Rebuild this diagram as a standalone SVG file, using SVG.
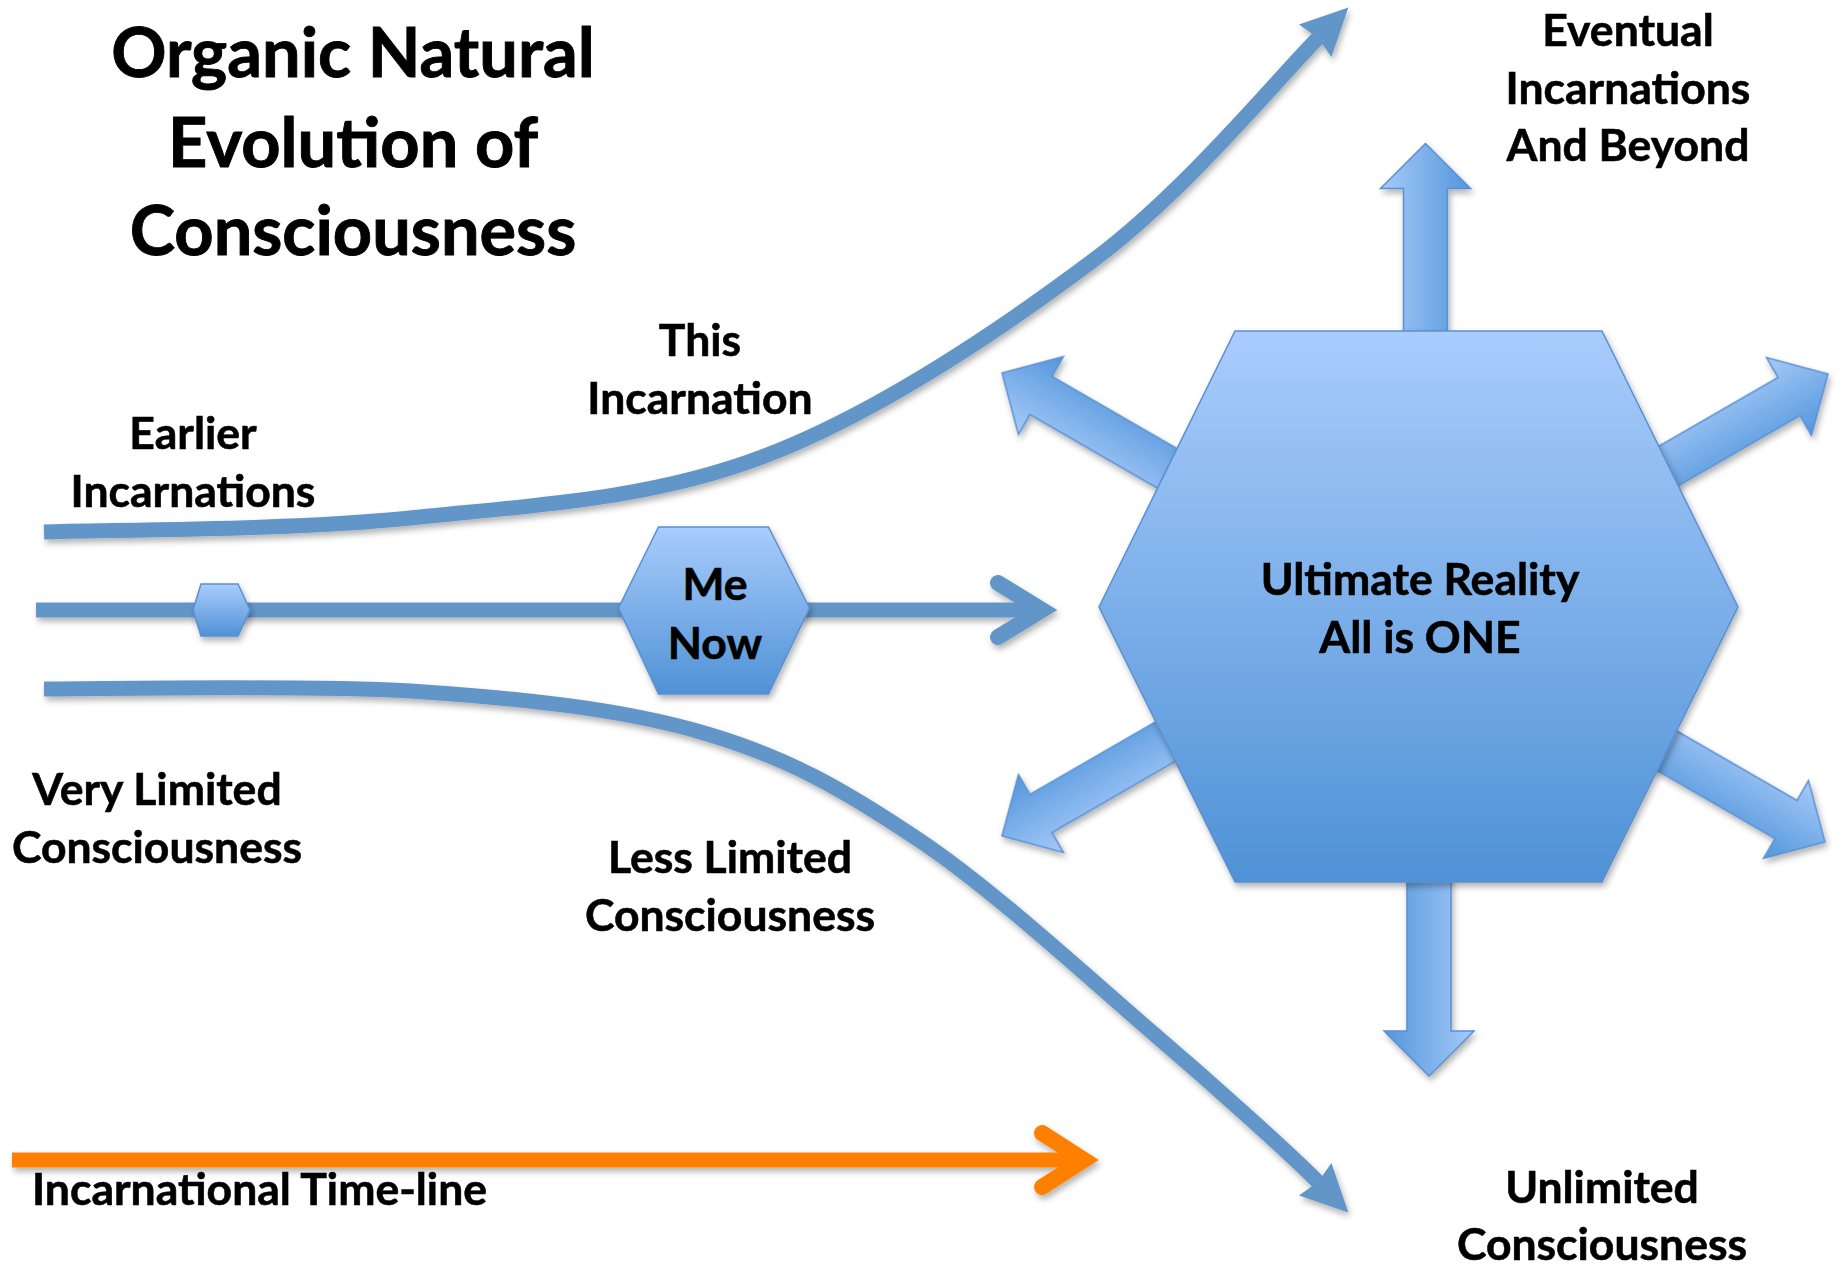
<svg xmlns="http://www.w3.org/2000/svg" xmlns:xlink="http://www.w3.org/1999/xlink" width="1839" height="1268" viewBox="0 0 1839 1268">
<style>
.t{font-family:Lato,"Liberation Sans",sans-serif;font-weight:700;fill:#000;text-anchor:middle;stroke:#000;stroke-width:0.6}
.title{font-size:68.5px;stroke-width:0.9}
.lbl{font-size:44.5px}
.ln{fill:none;stroke:#6296C9;stroke-width:15}
.or{fill:none;stroke:#FF8000;stroke-width:15}
.chev{fill:none;stroke-width:16;stroke-linecap:round;stroke-linejoin:miter;stroke-miterlimit:10}
.hex{fill:url(#hg);stroke:#5A8FD2;stroke-width:1.5}
.blk{fill:url(#ag);stroke:#5A90D3;stroke-width:1.5}
</style>
<defs>
<linearGradient id="hg" x1="0" y1="0" x2="0" y2="1">
<stop offset="0" stop-color="#A9CCFC"/>
<stop offset="1" stop-color="#4F92D6"/>
</linearGradient>
<linearGradient id="ag" gradientUnits="userSpaceOnUse" x1="0" y1="-45" x2="0" y2="45">
<stop offset="0" stop-color="#A6CAF8"/>
<stop offset="1" stop-color="#5396DC"/>
</linearGradient>
<filter id="sh" x="-10%" y="-10%" width="130%" height="130%">
<feDropShadow dx="2" dy="4" stdDeviation="3" flood-color="#000" flood-opacity="0.3"/>
</filter>
<marker id="tri" markerUnits="userSpaceOnUse" orient="auto" refX="0" refY="0" markerWidth="60" markerHeight="60" overflow="visible">
<path d="M43,0 L-4,-23 L0,0 L-4,23 Z" fill="#6296C9"/>
</marker>
<polygon id="blkArrow" points="0,0 -45,-45 -45,-22 -300,-22 -300,22 -45,22 -45,45"/>
</defs>

<rect width="1839" height="1268" fill="#fff"/>

<g id="title">
<text class="t title" x="353" y="77">Organic Natural</text>
<text class="t title" x="353" y="167">Evolution of</text>
<text class="t title" x="353" y="255">Consciousness</text>
</g>

<g id="connectors" filter="url(#sh)">
<path id="upper-curve" class="ln" marker-end="url(#tri)" d="M44,532 C105,529.7 290,530.5 410,518 C529.7,505.5 647.8,500.2 762,457 C876.2,413.8 1002.7,328.3 1095,259 C1187.3,189.7 1280,76 1318,38"/>
<path id="lower-curve" class="ln" marker-end="url(#tri)" d="M44,689 C105,689 300,685 410,691 C520,698.3 619.2,708.2 704,733 C788.8,757.8 844,789.8 919,840 C994,890.2 1087.8,977.3 1154,1034 C1220.2,1090.7 1289,1153 1318,1182"/>
<line id="middle-line" class="ln" x1="36" y1="610" x2="1040" y2="610"/>
<polyline class="chev" stroke="#6296C9" points="998,583 1042,610 998,637"/>
<line id="timeline" class="or" x1="12" y1="1160" x2="1084" y2="1160"/>
<polyline class="chev" stroke="#FF8000" points="1042,1133 1084,1160 1042,1187"/>
</g>

<g id="node-earlier" filter="url(#sh)">
<polygon class="hex" points="201,584 238,584 250,610 238,636 201,636 193,610"/>
</g>

<g id="node-me-now">
<polygon class="hex" filter="url(#sh)" points="658.5,527 768.5,527 809.5,608 768.5,694 658.5,694 618.5,608"/>
<text class="t lbl" x="715" y="600">Me</text>
<text class="t lbl" x="715" y="659">Now</text>
</g>

<g id="burst-arrows" filter="url(#sh)">
<use xlink:href="#blkArrow" class="blk" transform="translate(1425.5,143.5) rotate(-90)"/>
<use xlink:href="#blkArrow" class="blk" transform="translate(1429,1076) rotate(90)"/>
<use xlink:href="#blkArrow" class="blk" transform="translate(1002,373) rotate(210)"/>
<use xlink:href="#blkArrow" class="blk" transform="translate(1828,374) rotate(-30)"/>
<use xlink:href="#blkArrow" class="blk" transform="translate(1002,836) rotate(150)"/>
<use xlink:href="#blkArrow" class="blk" transform="translate(1825,842) rotate(30)"/>
</g>

<g id="node-ultimate-reality">
<polygon class="hex" filter="url(#sh)" points="1235,331 1602,331 1738,607 1602,882 1235,882 1099,607"/>
<text class="t lbl" x="1420" y="595">Ultimate Reality</text>
<text class="t lbl" x="1420" y="653">All is ONE</text>
</g>

<g id="labels">
<text class="t lbl" x="700" y="356">This</text>
<text class="t lbl" x="700" y="414">Incarnation</text>
<text class="t lbl" x="193" y="449">Earlier</text>
<text class="t lbl" x="193" y="507">Incarnations</text>
<text class="t lbl" x="1628" y="46">Eventual</text>
<text class="t lbl" x="1628" y="104">Incarnations</text>
<text class="t lbl" x="1628" y="161">And Beyond</text>
<text class="t lbl" x="157" y="805">Very Limited</text>
<text class="t lbl" x="157" y="863">Consciousness</text>
<text class="t lbl" x="730" y="873">Less Limited</text>
<text class="t lbl" x="730" y="931">Consciousness</text>
<text class="t lbl" x="32" y="1205" style="text-anchor:start">Incarnational Time-line</text>
<text class="t lbl" x="1602" y="1203">Unlimited</text>
<text class="t lbl" x="1602" y="1260">Consciousness</text>
</g>
</svg>
